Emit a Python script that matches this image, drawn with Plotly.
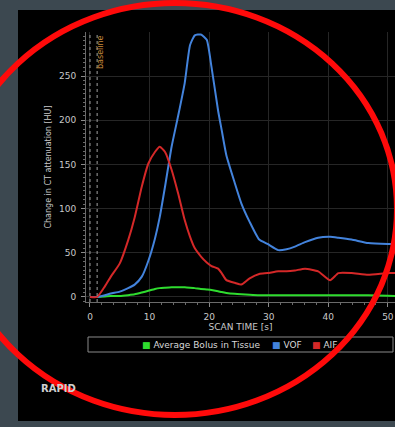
import plotly.graph_objects as go

# ---- data ----
scan_time = [0, 1.2, 2.5, 3.5, 5, 6.4, 7.5, 8.7, 9.8, 10.9, 11.7, 12.6, 13.7, 14.8, 15.9,
             16.8, 17.6, 18.6, 19.6, 20.4, 21.5, 22.1, 22.9, 24.3, 25.4, 26.8, 28.4, 29.8,
             31.6, 33, 34.4, 36.1, 38.3, 40.3, 41.7, 43.9, 46.7, 50, 52]
aif = [0, 0, 12, 23, 38, 64, 90, 125, 151, 164, 170, 164, 144, 117, 87,
       68, 55, 46, 39, 35, 32, 27, 19, 16, 14, 21, 26, 27,
       29, 29, 30, 32, 29, 19, 27, 27, 25, 27, 27]
vof = [0, 0, 2, 4, 6, 10, 14, 23, 41, 66, 90, 125, 170, 205, 242,
       285, 296, 297, 291, 260, 211, 189, 160, 129, 106, 85, 65, 60,
       53, 54, 57, 62, 67, 68, 67, 65, 61, 60, 60]
tissue = [0, 0, 0.5, 1, 1, 2, 3, 5, 7, 9, 10, 10.5, 11, 11, 11,
          10.5, 10, 9, 8.5, 8, 6.5, 5.5, 4.5, 3.5, 3, 2.5, 2, 2,
          2, 2, 2, 2, 2, 2, 2, 2, 2, 1.5, 1]
baseline_marks = [0, 1.2]
x_ticks = [0, 10, 20, 30, 40, 50]
y_ticks = [0, 50, 100, 150, 200, 250]

series_names = ["Average Bolus in Tissue", "VOF", "AIF"]
series_colors = ["#2fdc2f", "#4383dc", "#d42828"]

# ---- layout geometry (pixels); margins are zero so paper == page ----
W, H = 395, 427
PLOT_L, PLOT_R, PLOT_T, PLOT_B = 86, 395, 32, 302


def px(X):
    return X / W


def py(Y):
    return 1 - Y / H


FONT = "DejaVu Sans"
TXT = "#c8c8c8"

fig = go.Figure()
for name, ys, col in zip(series_names, [tissue, vof, aif], series_colors):
    fig.add_trace(go.Scatter(x=scan_time, y=ys, mode="lines", name=name,
                             line=dict(color=col, width=2, shape="spline", smoothing=0.5),
                             showlegend=False))

shapes = []
# dotted baseline markers
for bx in baseline_marks:
    shapes.append(dict(type="line", xref="x", yref="paper", x0=bx, x1=bx,
                       y0=py(PLOT_B), y1=py(PLOT_T),
                       line=dict(color="#a0a0a0", width=1, dash="dot"), layer="above"))
# legend frame
shapes.append(dict(type="rect", xref="paper", yref="paper",
                   x0=px(88), x1=px(393), y0=py(337), y1=py(352),
                   line=dict(color="#8a8a8a", width=1), fillcolor="rgba(0,0,0,0)"))
# grey screen frame
GREY = "#3c4850"
for (x0, x1, y0, y1) in [(0, 18, 0, 427), (0, 395, 0, 10), (0, 395, 421, 427)]:
    shapes.append(dict(type="rect", xref="paper", yref="paper",
                       x0=px(x0), x1=px(x1), y0=py(y0), y1=py(y1),
                       line=dict(width=0), fillcolor=GREY, layer="above"))
# red hand-drawn circle
shapes.append(dict(type="circle", xref="paper", yref="paper",
                   x0=px(-47), x1=px(397), y0=py(3), y1=py(415),
                   line=dict(color="#ff0a0a", width=6), layer="above"))

annotations = [
    dict(text="baseline", xref="x", yref="paper", x=1.85, y=py(33), yanchor="top",
         textangle=-90, showarrow=False, font=dict(family=FONT, size=8, color="#c8883a")),
    dict(text="<b>RAPID</b>", xref="paper", yref="paper", x=px(58), y=py(388),
         xanchor="center", yanchor="middle",
         showarrow=False, font=dict(family=FONT, size=10, color="#d0d0d0")),
]
# legend entries (square key + label) inside the legend frame
legend_x = [140, 270, 310]
for name, col, lx in zip(series_names, series_colors, legend_x):
    annotations.append(dict(
        text=f"<span style='color:{col}'>■</span> {name}",
        xref="paper", yref="paper", x=px(lx), y=py(344.5), xanchor="left", yanchor="middle",
        showarrow=False, font=dict(family=FONT, size=9, color="#d8d8d8")))

fig.update_layout(
    width=W, height=H,
    margin=dict(l=0, r=0, t=0, b=0, pad=0),
    paper_bgcolor="#000000", plot_bgcolor="#000000",
    font=dict(family=FONT, size=9, color=TXT),
    showlegend=False,
    shapes=shapes,
    annotations=annotations,
)
fig.update_xaxes(domain=[px(PLOT_L), px(PLOT_R)], automargin=False,
                 range=[-0.67, 51.2], tickvals=x_ticks, ticktext=[str(v) for v in x_ticks],
                 showgrid=True, gridcolor="#262626", gridwidth=1, zeroline=False,
                 showline=True, linecolor="#6a6a6a", ticks="outside", ticklen=4,
                 tickcolor="#8a8a8a", ticklabelstandoff=2,
                 minor=dict(dtick=2, ticks="outside", ticklen=2, tickcolor="#6a6a6a", showgrid=False),
                 tickfont=dict(family=FONT, size=9, color=TXT),
                 title=dict(text="SCAN TIME [s]", font=dict(family=FONT, size=9, color=TXT), standoff=2))
fig.update_yaxes(domain=[py(PLOT_B), py(PLOT_T)], automargin=False,
                 range=[-5.7, 299.8], tickvals=y_ticks, ticktext=[str(v) for v in y_ticks],
                 showgrid=True, gridcolor="#262626", gridwidth=1, zeroline=False,
                 showline=True, linecolor="#6a6a6a", ticks="outside", ticklen=4,
                 tickcolor="#8a8a8a", ticklabelstandoff=3,
                 minor=dict(dtick=5, ticks="outside", ticklen=2, tickcolor="#6a6a6a", showgrid=False),
                 tickfont=dict(family=FONT, size=9, color=TXT),
                 title=dict(text="Change in CT attenuation [HU]",
                            font=dict(family=FONT, size=8, color=TXT), standoff=6))

fig.write_html("out.html", config={"displayModeBar": False},
               post_script="document.body.style.margin='0px';")
